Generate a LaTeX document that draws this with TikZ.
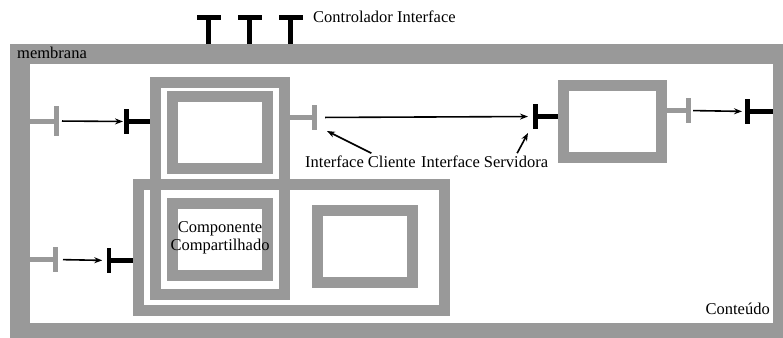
\documentclass[tikz,border=0pt]{standalone}
\usepackage{fontspec}
\setmainfont{Liberation Serif}
\usepackage{tikz}
\usetikzlibrary{arrows.meta}

\definecolor{cgray}{RGB}{153,153,153}

\begin{document}
\begin{tikzpicture}[x=1pt, y=-1pt,
  font=\fontsize{16.5}{18.5}\selectfont,
  fr/.style={draw=cgray, line width=11pt, inner sep=0pt},
  ci/.style={fill=cgray, minimum width=5pt, minimum height=25pt, inner sep=0pt, outer sep=0pt},
  si/.style={fill=black, minimum width=5pt, minimum height=25pt, inner sep=0pt, outer sep=0pt},
  cl/.style={draw=cgray, line width=5pt},
  sl/.style={draw=black, line width=5pt},
  lbl/.style={inner sep=0pt},
  e/.style={-{Stealth[length=8pt, width=6pt]}, line width=1.6pt}]

  \useasboundingbox (0,0) rectangle (783,337);

  % membrana
  \node[draw=cgray, line width=20pt, inner sep=0pt, minimum width=763pt, minimum height=279pt] (memb) at (401.5,193.5) {};
  \coordinate (rin) at (773,111.5);

  % componentes
  \node[fr, minimum width=129pt, minimum height=212pt] (cA) at (220,188.5) {};
  \node[fr, minimum width=95pt, minimum height=72pt] (cA1) at (220,132.5) {};
  \node[fr, minimum width=306pt, minimum height=126pt] (cB) at (291.5,247.5) {};
  \node[fr, minimum width=95pt, minimum height=72pt] (cS) at (220,239.5) {};
  \node[fr, minimum width=95pt, minimum height=72pt] (cB2) at (365,246.5) {};
  \node[fr, minimum width=98pt, minimum height=72pt] (cC) at (612.5,121.5) {};

  % interfaces de controle
  \node[si, minimum width=24pt, minimum height=5pt] (ct1) at (208.5,17.5) {};
  \node[si, minimum width=24pt, minimum height=5pt] (ct2) at (249.5,17.5) {};
  \node[si, minimum width=24pt, minimum height=5pt] (ct3) at (290.5,17.5) {};
  \draw[sl] (ct1.center) -- (ct1 |- memb.north);
  \draw[sl] (ct2.center) -- (ct2 |- memb.north);
  \draw[sl] (ct3.center) -- (ct3 |- memb.north);

  % interfaces cliente / servidora
  \node[ci, minimum height=30pt] (mc1) at (56,121) {};
  \node[si] (sA) at (126.5,121.5) {};
  \draw[cl] (mc1.center) -- (mc1 -| memb.west);
  \draw[sl] (sA.center) -- (sA -| cA.west);
  \draw[e, shorten <=3.5pt, shorten >=1pt] (mc1) -- (sA);

  \node[ci] (cc1) at (314.5,117.5) {};
  \node[si] (sC) at (535.5,116.5) {};
  \draw[cl] (cc1.center) -- (cc1 -| cA.east);
  \draw[sl] (sC.center) -- (sC -| cC.west);
  \draw[e, shorten <=8pt, shorten >=5pt] (cc1) -- (sC);

  \node[ci] (cc3) at (688.5,110.5) {};
  \node[si] (sM) at (747.5,111.5) {};
  \draw[cl] (cc3.center) -- (cc3 -| cC.east);
  \draw[sl] (sM.center) -- (rin);
  \draw[e, shorten <=2pt, shorten >=3pt] (cc3) -- (sM);

  \node[ci] (mc2) at (55.5,259.5) {};
  \node[si, minimum width=4.5pt] (sB) at (109,260.5) {};
  \draw[cl] (mc2.center) -- (mc2 -| memb.west);
  \draw[sl] (sB.center) -- (sB -| cB.west);
  \draw[e, shorten <=5pt, shorten >=4.5pt] (mc2) -- (sB);

  % textos
  \node[lbl, anchor=base west] (lmemb) at (17,59) {membrana};
  \node[lbl, anchor=base west] (lctl) at (313,23) {Controlador Interface};
  \node[lbl, anchor=base west] (lcli) at (305,167) {Interface Cliente};
  \node[lbl, anchor=base west] (lsrv) at (421,167) {Interface Servidora};
  \node[lbl, anchor=base east] (lcont) at (770,314) {Conteúdo};
  \node[lbl, align=center] (lshared) at (220,238) {Componente\\Compartilhado};

  \draw[e] ([xshift=11pt, yshift=2pt]lcli.north) -- ([xshift=10pt, yshift=-1pt]cc1.south east);
  \draw[e] ([xshift=32.5pt, yshift=2pt]lsrv.north) -- ([xshift=-5pt, yshift=-4pt]sC.south west);
\end{tikzpicture}
\end{document}
